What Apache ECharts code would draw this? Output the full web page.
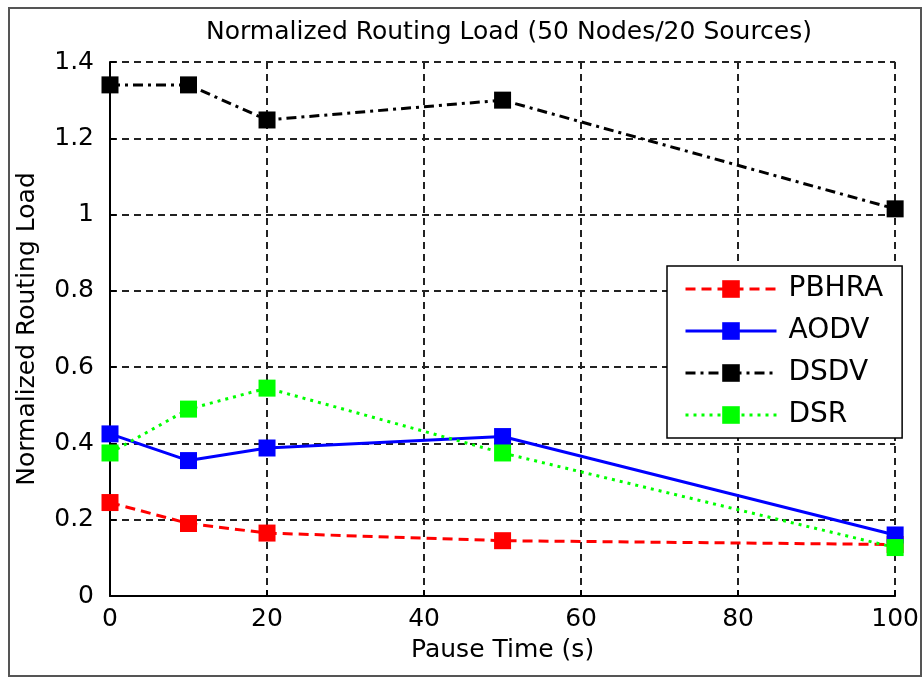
<!DOCTYPE html>
<html>
<head>
<meta charset="utf-8">
<script src="https://cdn.jsdelivr.net/npm/echarts@6/dist/echarts.min.js"></script>
<style>
  html, body { margin: 0; padding: 0; background: #fff; }
  #chart { width: 922px; height: 677px; }
</style>
</head>
<body>
<div id="chart"></div>
<script>
// pause time (s)
const pauseTimes = [0, 10, 20, 50, 100];
const pbhra = [0.245, 0.19, 0.165, 0.145, 0.135];
const aodv = [0.425, 0.355, 0.388, 0.418, 0.16];
const dsdv = [1.34, 1.34, 1.248, 1.30, 1.015];
const dsr = [0.375, 0.49, 0.545, 0.375, 0.127];

const font = 'DejaVu Sans';

function pairs(ys) {
    return pauseTimes.map((x, i) => [x, ys[i]]);
}

function makeSeries(name, ys, color, type) {
    return {
        name: name,
        type: 'line',
        data: pairs(ys),
        symbol: 'rect',
        symbolSize: 17,
        itemStyle: { color: color },
        lineStyle: { color: color, width: 3, type: type },
        emphasis: { disabled: true },
        animation: false
    };
}

const chart = echarts.init(document.getElementById('chart'));
chart.setOption({
    backgroundColor: '#fff',
    title: {
        text: 'Normalized Routing Load (50 Nodes/20 Sources)',
        left: 504,
        textAlign: 'center',
        top: 15,
        textStyle: { fontFamily: font, fontSize: 25, fontWeight: 'normal', color: '#000' }
    },
    grid: { left: 110, right: 22, top: 62, bottom: 81 },
    legend: {
        orient: 'vertical',
        left: 667,
        top: 266,
        padding: [9, 19, 9, 17],
        itemWidth: 91,
        itemHeight: 22,
        itemGap: 14,
        backgroundColor: '#fff',
        borderColor: '#000',
        borderWidth: 1.5,
        borderRadius: 0,
        selectedMode: false,
        lineStyle: { width: 3 },
        textStyle: { fontFamily: font, fontSize: 28, color: '#000', padding: [0, 0, 0, 7] },
        data: ['PBHRA', 'AODV', 'DSDV', 'DSR']
    },
    xAxis: {
        type: 'value',
        min: 0,
        max: 100,
        interval: 20,
        name: 'Pause Time (s)',
        nameLocation: 'middle',
        nameGap: 42,
        nameMoveOverlap: false,
        nameTextStyle: { fontFamily: font, fontSize: 25, color: '#000' },
        axisLine: { lineStyle: { color: '#000', width: 2 } },
        axisTick: { inside: true, length: 6, lineStyle: { color: '#000', width: 2 } },
        axisLabel: { fontFamily: font, fontSize: 25, color: '#000', margin: 11 },
        splitLine: { show: true, lineStyle: { color: '#222', width: 2, type: [7, 5] } }
    },
    yAxis: {
        type: 'value',
        min: 0,
        max: 1.4,
        interval: 0.2,
        name: 'Normalized Routing Load',
        nameLocation: 'middle',
        nameGap: 70,
        nameMoveOverlap: false,
        nameTextStyle: { fontFamily: font, fontSize: 25, color: '#000' },
        axisLine: { show: true, lineStyle: { color: '#000', width: 2 } },
        axisTick: { show: true, inside: true, length: 6, lineStyle: { color: '#000', width: 2 } },
        axisLabel: { fontFamily: font, fontSize: 25, color: '#000', margin: 16 },
        splitLine: { show: true, lineStyle: { color: '#222', width: 2, type: [7, 5] } }
    },
    series: [
        makeSeries('PBHRA', pbhra, '#ff0000', [10, 6]),
        makeSeries('AODV', aodv, '#0000ff', 'solid'),
        makeSeries('DSDV', dsdv, '#000000', [10, 5, 3, 5]),
        makeSeries('DSR', dsr, '#00ff00', [3, 5])
    ],
    graphic: [{
        type: 'rect',
        shape: { x: 9, y: 8, width: 912, height: 668 },
        style: { fill: 'none', stroke: '#555', lineWidth: 2 },
        silent: true
    }]
});
</script>
</body>
</html>
